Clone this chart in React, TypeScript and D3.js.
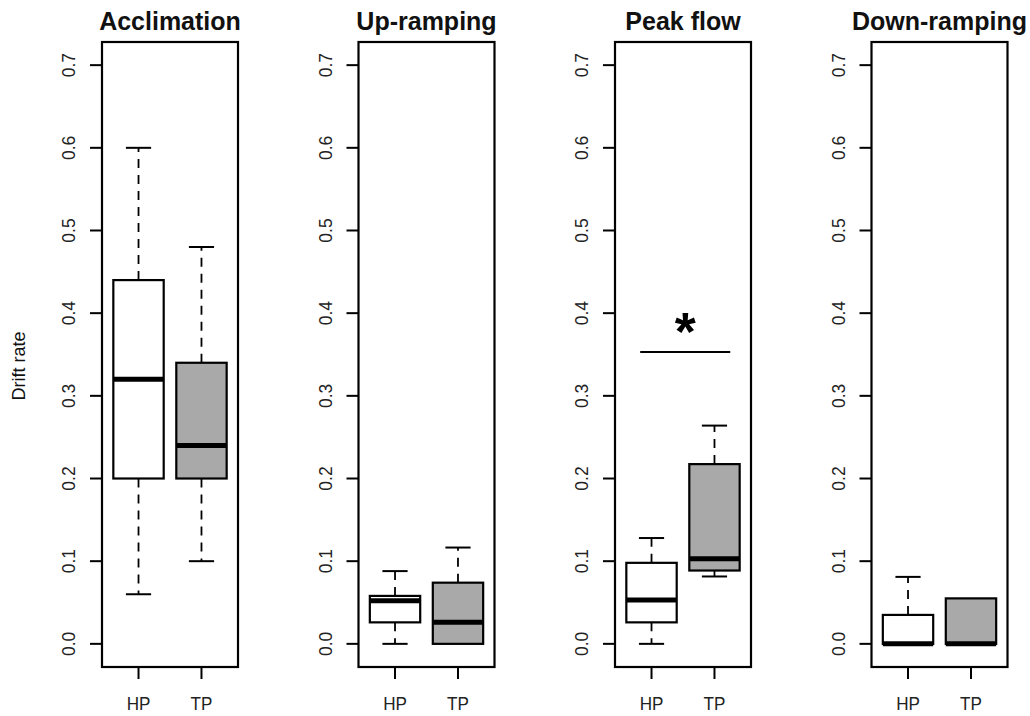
import React from "react";
import * as d3 from "d3";

const panels = ["Acclimation", "Up-ramping", "Peak flow", "Down-ramping"];
const groups = ["HP", "TP"];
const groupFill = ["#ffffff", "#a9a9a9"];
// [lower whisker, Q1, median, Q3, upper whisker]
const hpStats = [
  [0.06, 0.2, 0.32, 0.44, 0.6],
  [0.0, 0.026, 0.052, 0.058, 0.088],
  [0.0, 0.026, 0.053, 0.098, 0.128],
  [0.0, 0.0, 0.0, 0.035, 0.081],
];
const tpStats = [
  [0.1, 0.2, 0.24, 0.34, 0.48],
  [0.0, 0.0, 0.026, 0.074, 0.1165],
  [0.0815, 0.0887, 0.103, 0.2174, 0.264],
  [0.0, 0.0, 0.0, 0.055, 0.055],
];
const yTicks = [0, 0.1, 0.2, 0.3, 0.4, 0.5, 0.6, 0.7];
const sigPanel = 2;
const sigLevel = 0.353;
const sigFrom = 0.82;
const sigTo = 2.25;
const sigLabel = "*";
const yLabel = "Drift rate";

const W = 1030;
const H = 716;
const panelLeft0 = 102;
const panelStep = 256.5;
const panelW = 136;
const top = 42;
const bottom = 667;

const y = d3.scaleLinear().domain([-0.028, 0.728]).range([bottom, top]);
const FONT = "'Liberation Sans', Arial, Helvetica, sans-serif";

function Box({ stats, cx, ux, fill }: { stats: number[]; cx: number; ux: number; fill: string }) {
  const [lo, q1, med, q3, hi] = stats;
  const bw = 0.8 * ux;
  const sw = 0.4 * ux;
  return (
    <g>
      {hi > q3 && (
        <>
          <line x1={cx} x2={cx} y1={y(q3)} y2={y(hi)} stroke="#000" strokeWidth={1.8} strokeDasharray="9,7" />
          <line x1={cx - sw / 2} x2={cx + sw / 2} y1={y(hi)} y2={y(hi)} stroke="#000" strokeWidth={2} />
        </>
      )}
      {lo < q1 && (
        <>
          <line x1={cx} x2={cx} y1={y(q1)} y2={y(lo)} stroke="#000" strokeWidth={1.8} strokeDasharray="9,7" />
          <line x1={cx - sw / 2} x2={cx + sw / 2} y1={y(lo)} y2={y(lo)} stroke="#000" strokeWidth={2} />
        </>
      )}
      <rect x={cx - bw / 2} y={y(q3)} width={bw} height={Math.max(0, y(q1) - y(q3))} fill={fill} stroke="#000" strokeWidth={2.2} />
      <line x1={cx - bw / 2} x2={cx + bw / 2} y1={y(med)} y2={y(med)} stroke="#000" strokeWidth={5} />
    </g>
  );
}

export default function App() {
  return (
    <svg width={W} height={H} style={{ position: "absolute", left: 0, top: 0, background: "#fff" }} fontFamily={FONT}>
      <rect x={0} y={0} width={W} height={H} fill="#fff" />
      <text
        transform={`translate(25,366) rotate(-90)`}
        textAnchor="middle"
        fontSize={18}
        fill="#111"
      >
        {yLabel}
      </text>
      {panels.map((name, i) => {
        const left = panelLeft0 + i * panelStep;
        const x = d3.scaleLinear().domain([0.42, 2.58]).range([left, left + panelW]);
        const ux = x(2) - x(1);
        const statsPair = [hpStats[i], tpStats[i]];
        return (
          <g key={name}>
            <text x={left + panelW / 2} y={30} textAnchor="middle" fontSize={25} fontWeight="bold" fill="#111">
              {name}
            </text>
            {yTicks.map((t) => (
              <g key={t}>
                <line x1={left - 12} x2={left} y1={y(t)} y2={y(t)} stroke="#000" strokeWidth={2} />
                <text
                  transform={`translate(${left - 27},${y(t)}) rotate(-90) scale(0.92,1)`}
                  textAnchor="middle"
                  fontSize={19}
                  fill="#222"
                >
                  {t.toFixed(1)}
                </text>
              </g>
            ))}
            {groups.map((g, j) => (
              <g key={g}>
                <line x1={x(j + 1)} x2={x(j + 1)} y1={bottom} y2={bottom + 12} stroke="#000" strokeWidth={2} />
                <text
                  transform={`translate(${x(j + 1)},710) scale(0.9,1)`}
                  textAnchor="middle"
                  fontSize={19}
                  fill="#222"
                >
                  {g}
                </text>
              </g>
            ))}
            {statsPair.map((s, j) => (
              <Box key={j} stats={s} cx={x(j + 1)} ux={ux} fill={groupFill[j]} />
            ))}
            {i === sigPanel && (
              <g>
                <line x1={x(sigFrom)} x2={x(sigTo)} y1={y(sigLevel)} y2={y(sigLevel)} stroke="#000" strokeWidth={2} />
                <text x={(x(sigFrom) + x(sigTo)) / 2} y={y(sigLevel) - 2} textAnchor="middle" fontSize={54} fontWeight="bold" fill="#000">
                  {sigLabel}
                </text>
              </g>
            )}
            <rect x={left} y={top} width={panelW} height={bottom - top} fill="none" stroke="#000" strokeWidth={2.2} />
          </g>
        );
      })}
    </svg>
  );
}
